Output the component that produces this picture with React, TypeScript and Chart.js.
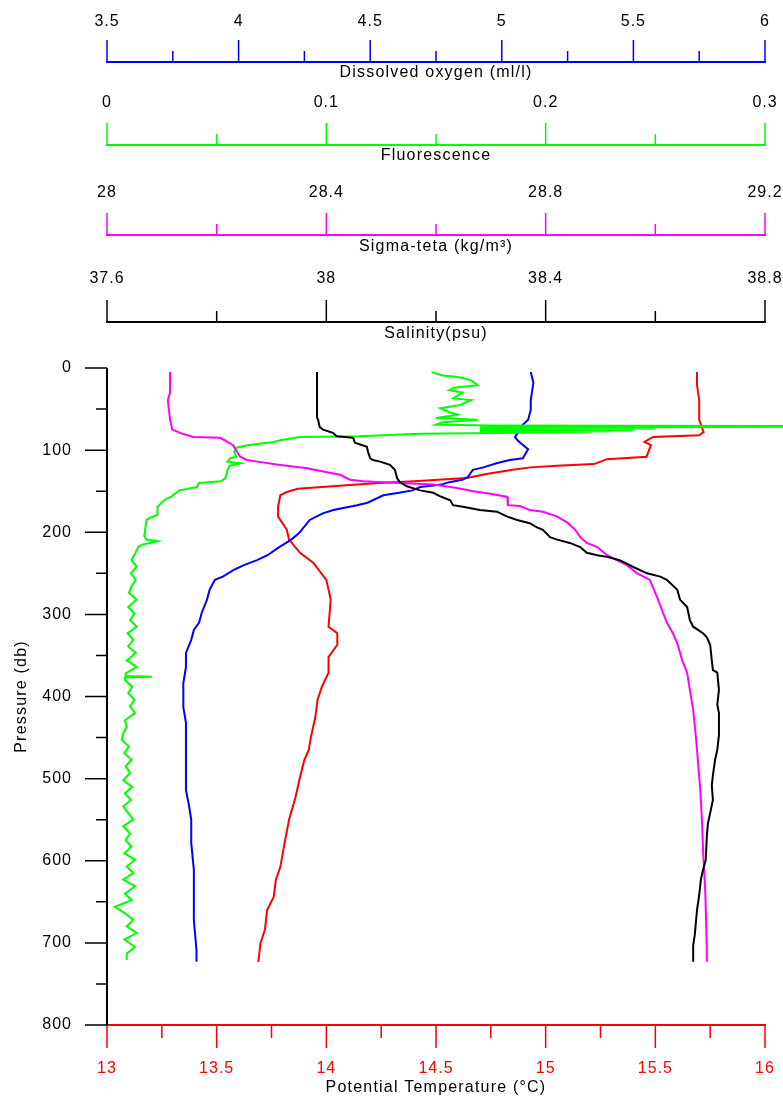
import React, { useEffect, useRef } from "react";
import { Chart, registerables } from "chart.js";

Chart.register(...registerables);

const W = 783;
const H = 1103;

// ---------- tick values ----------
const pressureTicks = [0, 100, 200, 300, 400, 500, 600, 700, 800];
const pressureMinor = [50, 150, 250, 350, 450, 550, 650, 750];
const tempTicks = [13, 13.5, 14, 14.5, 15, 15.5, 16];
const tempMinor = [13.25, 13.75, 14.25, 14.75, 15.25, 15.75];
const oxyTicks = [3.5, 4, 4.5, 5, 5.5, 6];
const oxyMinor = [3.75, 4.25, 4.75, 5.25, 5.75];
const fluoTicks = [0, 0.1, 0.2, 0.3];
const fluoMinor = [0.05, 0.15, 0.25];
const sigmaTicks = [28, 28.4, 28.8, 29.2];
const sigmaMinor = [28.2, 28.6, 29.0];
const salTicks = [37.6, 38, 38.4, 38.8];
const salMinor = [37.8, 38.2, 38.6];

// ---------- Potential temperature (°C) ----------
const tempP = [5, 21, 39, 63, 78, 82, 84, 90, 94, 108, 111, 117, 119, 121, 124, 129, 134, 138, 140, 142, 145, 147, 151, 155, 169, 181, 197, 209, 225, 237, 258, 282, 315, 323, 337, 352, 371, 388, 404, 425, 449, 465, 477, 498, 522, 550, 578, 608, 623, 644, 660, 684, 700, 723];
const tempV = [15.69, 15.69, 15.70, 15.70, 15.72, 15.70, 15.49, 15.45, 15.48, 15.46, 15.28, 15.22, 15.05, 14.93, 14.85, 14.73, 14.64, 14.40, 14.24, 14.14, 13.98, 13.87, 13.82, 13.79, 13.78, 13.78, 13.82, 13.83, 13.88, 13.94, 14.00, 14.02, 14.01, 14.05, 14.05, 14.01, 14.01, 13.98, 13.96, 13.95, 13.93, 13.92, 13.90, 13.88, 13.86, 13.83, 13.81, 13.79, 13.77, 13.76, 13.73, 13.72, 13.70, 13.69];

// ---------- Dissolved oxygen (ml/l) ----------
const oxyP = [5, 18, 39, 51, 63, 69, 75, 84, 88, 91, 99, 110, 112, 116, 121, 124, 133, 136, 139, 142, 145, 149, 152, 155, 164, 167, 173, 177, 185, 201, 209, 219, 228, 234, 240, 246, 254, 258, 270, 282, 298, 310, 319, 331, 347, 364, 384, 413, 432, 465, 498, 514, 530, 550, 578, 611, 639, 672, 709, 723];
const oxyV = [5.11, 5.12, 5.11, 5.11, 5.10, 5.08, 5.07, 5.05, 5.06, 5.07, 5.10, 5.08, 5.03, 4.98, 4.93, 4.89, 4.87, 4.85, 4.80, 4.77, 4.69, 4.66, 4.61, 4.55, 4.49, 4.45, 4.36, 4.32, 4.27, 4.23, 4.20, 4.15, 4.11, 4.07, 4.02, 3.98, 3.94, 3.91, 3.89, 3.88, 3.86, 3.85, 3.83, 3.82, 3.80, 3.80, 3.79, 3.79, 3.80, 3.80, 3.80, 3.80, 3.81, 3.82, 3.82, 3.83, 3.83, 3.83, 3.84, 3.84];

// ---------- Sigma-teta (kg/m3) ----------
const sigmaP = [5, 30, 39, 63, 75, 79, 84, 85, 88, 94, 102, 108, 112, 114, 118, 122, 127, 130, 136, 138, 139, 142, 146, 150, 153, 157, 167, 168, 173, 175, 181, 188, 197, 206, 213, 218, 228, 234, 240, 250, 258, 282, 298, 310, 323, 335, 356, 371, 392, 416, 449, 481, 514, 550, 587, 636, 709, 723];
const sigmaV = [28.115, 28.115, 28.111, 28.115, 28.119, 28.133, 28.157, 28.206, 28.215, 28.230, 28.237, 28.243, 28.255, 28.274, 28.316, 28.365, 28.401, 28.425, 28.443, 28.467, 28.503, 28.595, 28.638, 28.668, 28.699, 28.730, 28.731, 28.753, 28.771, 28.795, 28.821, 28.839, 28.854, 28.863, 28.875, 28.894, 28.912, 28.930, 28.948, 28.967, 28.990, 29.005, 29.014, 29.021, 29.032, 29.040, 29.049, 29.058, 29.063, 29.069, 29.074, 29.078, 29.082, 29.085, 29.087, 29.091, 29.094, 29.094];

// ---------- Salinity (psu) ----------
const salP = [5, 60, 63, 72, 75, 79, 83, 85, 91, 96, 102, 110, 112, 114, 118, 124, 134, 139, 144, 149, 152, 156, 161, 167, 169, 173, 175, 181, 185, 189, 194, 197, 206, 209, 213, 218, 225, 228, 230, 234, 242, 250, 254, 258, 270, 282, 291, 307, 315, 323, 328, 337, 356, 368, 371, 392, 410, 420, 447, 465, 477, 496, 508, 526, 542, 554, 569, 599, 611, 623, 642, 660, 690, 703, 723];
const salV = [37.983, 37.983, 37.985, 37.988, 37.994, 38.012, 38.019, 38.049, 38.052, 38.074, 38.076, 38.080, 38.085, 38.098, 38.116, 38.125, 38.129, 38.134, 38.147, 38.171, 38.195, 38.207, 38.226, 38.231, 38.249, 38.280, 38.311, 38.330, 38.348, 38.371, 38.384, 38.395, 38.408, 38.421, 38.444, 38.463, 38.475, 38.494, 38.512, 38.535, 38.559, 38.585, 38.609, 38.621, 38.640, 38.645, 38.658, 38.663, 38.669, 38.687, 38.694, 38.700, 38.703, 38.705, 38.713, 38.716, 38.713, 38.716, 38.716, 38.713, 38.709, 38.705, 38.703, 38.705, 38.700, 38.696, 38.694, 38.692, 38.687, 38.683, 38.680, 38.676, 38.672, 38.669, 38.669];

// ---------- Fluorescence ----------
const fluoP = [5, 9, 11, 15, 21, 24, 27, 30, 37, 39, 45, 49, 54, 57, 61, 63, 66, 69, 70, 71, 72, 72.5, 73, 73.5, 74, 74.5, 75, 75.5, 76, 76.5, 77, 77.5, 78, 79, 80, 81, 83, 84, 88, 90, 94, 97, 102, 108, 110, 114, 116, 119, 124, 134, 138, 140, 145, 149, 157, 161, 169, 179, 182, 185, 205, 209, 211, 215, 218, 226, 234, 242, 250, 258, 266, 274, 282, 291, 299, 307, 315, 323, 331, 339, 347, 356, 364, 372, 375, 376, 377, 380, 388, 396, 404, 412, 420, 429, 437, 445, 453, 461, 469, 477, 485, 493, 502, 510, 518, 526, 534, 542, 550, 558, 567, 575, 583, 591, 599, 607, 615, 623, 631, 640, 648, 656, 664, 672, 680, 688, 696, 705, 713, 721];
const fluoV = [0.148, 0.153, 0.160, 0.166, 0.169, 0.158, 0.156, 0.162, 0.158, 0.166, 0.161, 0.152, 0.156, 0.160, 0.150, 0.169, 0.153, 0.150, 0.175, 0.36, 0.25, 0.17, 0.25, 0.18, 0.25, 0.17, 0.24, 0.18, 0.24, 0.17, 0.23, 0.17, 0.22, 0.176, 0.143, 0.134, 0.115, 0.088, 0.079, 0.076, 0.064, 0.059, 0.058, 0.059, 0.056, 0.055, 0.061, 0.056, 0.055, 0.054, 0.052, 0.042, 0.041, 0.033, 0.029, 0.026, 0.023, 0.023, 0.020, 0.018, 0.017, 0.018, 0.023, 0.016, 0.0143, 0.0128, 0.0112, 0.0135, 0.0109, 0.0131, 0.0112, 0.0100, 0.0135, 0.0097, 0.0125, 0.0105, 0.0135, 0.0094, 0.0120, 0.0097, 0.0131, 0.0090, 0.0135, 0.0085, 0.0085, 0.0204, 0.0082, 0.0082, 0.0115, 0.0097, 0.0125, 0.0105, 0.0128, 0.0082, 0.0090, 0.0074, 0.0067, 0.0100, 0.0079, 0.0112, 0.0085, 0.0105, 0.0074, 0.0115, 0.0082, 0.0109, 0.0074, 0.0097, 0.0120, 0.0074, 0.0105, 0.0085, 0.0112, 0.0079, 0.0128, 0.0090, 0.0120, 0.0074, 0.0128, 0.0082, 0.0112, 0.0036, 0.0082, 0.0120, 0.0090, 0.0135, 0.0079, 0.0128, 0.0090, 0.0090];

const BLUE = "#0000ff";
const GREEN = "#00ff00";
const MAGENTA = "#ff00ff";
const BLACK = "#000000";
const RED = "#ff0000";
const FONT = '16px "Liberation Sans", Arial, sans-serif';

const toPoints = (p: number[], v: number[]) => p.map((y, i) => ({ x: v[i], y }));

type TopAxis = {
  id: string;
  major: number[];
  minor: number[];
  color: string;
  title: string;
  labelY: number;
  lineY: number;
  titleY: number;
};

const topAxes: TopAxis[] = [
  { id: "xOxy", major: oxyTicks, minor: oxyMinor, color: BLUE, title: "Dissolved oxygen (ml/l)", labelY: 22, lineY: 62, titleY: 73 },
  { id: "xFluo", major: fluoTicks, minor: fluoMinor, color: GREEN, title: "Fluorescence", labelY: 103, lineY: 145, titleY: 156 },
  { id: "xSigma", major: sigmaTicks, minor: sigmaMinor, color: MAGENTA, title: "Sigma-teta (kg/m\u00B3)", labelY: 193, lineY: 235, titleY: 247 },
  { id: "xSal", major: salTicks, minor: salMinor, color: BLACK, title: "Salinity(psu)", labelY: 279, lineY: 322, titleY: 334 },
];

const fmt = (v: number) => String(Math.round(v * 1000) / 1000);

const axesPlugin = {
  id: "oceanAxes",
  afterDraw(chart: any) {
    const ctx: CanvasRenderingContext2D = chart.ctx;
    const area = chart.chartArea;
    const c = ctx as any;
    ctx.save();
    ctx.font = FONT;
    ctx.textBaseline = "middle";
    ctx.lineCap = "butt";

    // top axes
    for (const a of topAxes) {
      const sc = chart.scales[a.id];
      const x0 = sc.getPixelForValue(a.major[0]);
      const x1 = sc.getPixelForValue(a.major[a.major.length - 1]);
      ctx.strokeStyle = a.color;
      ctx.lineWidth = 2;
      ctx.beginPath();
      ctx.moveTo(x0 - 1, a.lineY);
      ctx.lineTo(x1 + 1, a.lineY);
      ctx.stroke();
      ctx.lineWidth = 1.5;
      ctx.beginPath();
      for (const v of a.major) {
        const x = sc.getPixelForValue(v);
        ctx.moveTo(x, a.lineY);
        ctx.lineTo(x, a.lineY - 22);
      }
      for (const v of a.minor) {
        const x = sc.getPixelForValue(v);
        ctx.moveTo(x, a.lineY);
        ctx.lineTo(x, a.lineY - 11);
      }
      ctx.stroke();
      ctx.fillStyle = BLACK;
      ctx.textAlign = "center";
      c.letterSpacing = "1px";
      for (const v of a.major) {
        ctx.fillText(fmt(v), sc.getPixelForValue(v), a.labelY);
      }
      c.letterSpacing = "1.2px";
      ctx.fillText(a.title, (x0 + x1) / 2, a.titleY);
    }

    // bottom temperature axis
    const xt = chart.scales.xTemp;
    const by = area.bottom;
    ctx.strokeStyle = RED;
    ctx.lineWidth = 2;
    ctx.beginPath();
    ctx.moveTo(area.left - 1, by);
    ctx.lineTo(area.right + 1, by);
    ctx.stroke();
    ctx.lineWidth = 1.5;
    ctx.beginPath();
    for (const v of tempTicks) {
      const x = xt.getPixelForValue(v);
      ctx.moveTo(x, by);
      ctx.lineTo(x, by + 23);
    }
    for (const v of tempMinor) {
      const x = xt.getPixelForValue(v);
      ctx.moveTo(x, by);
      ctx.lineTo(x, by + 13);
    }
    ctx.stroke();
    ctx.fillStyle = RED;
    ctx.textAlign = "center";
    c.letterSpacing = "1px";
    for (const v of tempTicks) {
      ctx.fillText(fmt(v), xt.getPixelForValue(v), by + 44);
    }
    ctx.fillStyle = BLACK;
    c.letterSpacing = "1.2px";
    ctx.fillText("Potential Temperature (\u00B0C)", (area.left + area.right) / 2, by + 63);

    // left pressure axis
    const ys = chart.scales.y;
    const lx = area.left;
    ctx.strokeStyle = BLACK;
    ctx.lineWidth = 2;
    ctx.beginPath();
    ctx.moveTo(lx, area.top);
    ctx.lineTo(lx, by);
    ctx.stroke();
    ctx.lineWidth = 1.5;
    ctx.beginPath();
    for (const v of pressureTicks) {
      const y = ys.getPixelForValue(v);
      ctx.moveTo(lx, y);
      ctx.lineTo(lx - 22, y);
    }
    for (const v of pressureMinor) {
      const y = ys.getPixelForValue(v);
      ctx.moveTo(lx, y);
      ctx.lineTo(lx - 11, y);
    }
    ctx.stroke();
    ctx.fillStyle = BLACK;
    ctx.textAlign = "right";
    c.letterSpacing = "1px";
    for (const v of pressureTicks) {
      ctx.fillText(fmt(v), lx - 35, ys.getPixelForValue(v));
    }
    ctx.translate(22, (area.top + area.bottom) / 2);
    ctx.rotate(-Math.PI / 2);
    ctx.textAlign = "center";
    c.letterSpacing = "1.2px";
    ctx.fillText("Pressure (db)", 0, 0);
    ctx.restore();
  },
};

function hiddenX(min: number, max: number) {
  return { type: "linear", axis: "x", display: false, min, max };
}

export default function App() {
  const ref = useRef<HTMLCanvasElement | null>(null);

  useEffect(() => {
    if (!ref.current) return;
    const line = (label: string, p: number[], v: number[], color: string, xAxisID: string, extra: any = {}) => ({
      label,
      data: toPoints(p, v),
      xAxisID,
      yAxisID: "y",
      showLine: true,
      borderColor: color,
      backgroundColor: color,
      borderWidth: 2,
      pointRadius: 0,
      tension: 0,
      ...extra,
    });
    const chart = new Chart(ref.current, {
      type: "scatter",
      data: {
        datasets: [
          line("Salinity", salP, salV, BLACK, "xSal"),
          line("Sigma-teta", sigmaP, sigmaV, MAGENTA, "xSigma"),
          line("Fluorescence", fluoP, fluoV, GREEN, "xFluo", { clip: false }),
          line("Dissolved oxygen", oxyP, oxyV, BLUE, "xOxy"),
          line("Potential Temperature", tempP, tempV, RED, "xTemp"),
        ],
      },
      options: {
        responsive: false,
        maintainAspectRatio: false,
        animation: false,
        devicePixelRatio: 1,
        layout: { padding: { left: 107, right: 18, top: 368, bottom: 78 } },
        plugins: { legend: { display: false }, tooltip: { enabled: false } },
        scales: {
          xTemp: hiddenX(13, 16),
          xOxy: hiddenX(3.5, 6),
          xFluo: hiddenX(0, 0.3),
          xSigma: hiddenX(28, 29.2),
          xSal: hiddenX(37.6, 38.8),
          y: { type: "linear", axis: "y", display: false, reverse: true, min: 0, max: 800 },
        } as any,
      },
      plugins: [axesPlugin],
    } as any);
    return () => chart.destroy();
  }, []);

  return (
    <div style={{ position: "absolute", left: 0, top: 0, width: W, height: H, background: "#fff" }}>
      <canvas ref={ref} width={W} height={H} style={{ display: "block", width: W, height: H }} />
    </div>
  );
}
